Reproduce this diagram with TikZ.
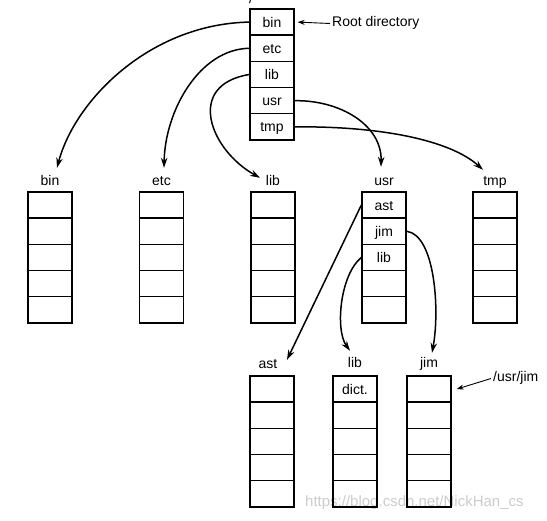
\documentclass[tikz,border=0pt]{standalone}
\usepackage{fontspec}
\setmainfont{Liberation Sans}
\usetikzlibrary{arrows.meta}
\begin{document}
\begin{tikzpicture}[x=1pt,y=-1pt,
  txt/.style={font=\fontsize{14}{16}\selectfont},
  cell/.style={txt, draw, line width=1.4pt, minimum width=44pt, minimum height=26.2pt, inner sep=0pt, text height=10pt, text depth=0pt},
  lbl/.style={txt, anchor=base, inner sep=2pt, text height=10pt, text depth=3pt},
  link/.style={line width=1.5pt, -{Stealth[length=10pt,width=6.5pt]}},
  pointer/.style={line width=0.9pt, -{Stealth[length=7pt,width=5pt]}}]
\useasboundingbox (0,0) rectangle (547,521);
% watermark
\node[anchor=base west, inner sep=0pt, text=black!20, font=\fontsize{15}{18}\selectfont] (wm) at (305,507) {https://blog.csdn.net/NickHan\_cs};
% root
\node[txt, anchor=base, inner sep=0pt] (slash) at (251,4) {/};
\foreach \t [count=\i] in {bin,etc,lib,usr,tmp}
  \node[cell] (r\i) at (272,{9+26.2*(\i-0.5)}) {\t};
\node[lbl, anchor=base west] (rootL) at (330,27) {Root directory};
\draw[pointer] (rootL.west) -- ([xshift=3pt]r1.east);
% middle row
\foreach \n/\x in {bin/50,etc/161.5,lib/273,tmp/495}
  \foreach \i in {1,...,5}
    \node[cell] (\n\i) at (\x,{192+26.2*(\i-0.5)}) {};
\foreach \t [count=\i] in {ast,jim,lib,{},{}}
  \node[cell] (u\i) at (384,{192+26.2*(\i-0.5)}) {\t};
\node[lbl] (binL) at (50,186) {bin};
\node[lbl] (etcL) at (161.5,186) {etc};
\node[lbl] (libL) at (273,186) {lib};
\node[lbl] (usrL) at (384,186) {usr};
\node[lbl] (tmpL) at (495,186) {tmp};
% bottom row
\foreach \t [count=\i] in {{},{},{},{},{}}
  \node[cell] (a\i) at (272,{376+26.2*(\i-0.5)}) {\t};
\foreach \t [count=\i] in {dict.,{},{},{},{}}
  \node[cell] (l\i) at (355,{376+26.2*(\i-0.5)}) {\t};
\foreach \t [count=\i] in {{},{},{},{},{}}
  \node[cell] (j\i) at (429,{376+26.2*(\i-0.5)}) {\t};
\node[lbl] (astL) at (268,369) {ast};
\node[lbl] (lib2L) at (355,368) {lib};
\node[lbl] (jimL) at (429,368) {jim};
\node[lbl, anchor=base west] (pathL) at (491,382) {/usr/jim};
\draw[pointer] (pathL.west) -- ([xshift=5pt]j1.east);
% links from root
\draw[link] (r1.west) .. controls (150,24) and (75,100) .. ([shift={(7,-6)}]binL.north);
\draw[link] (r2.west) .. controls (200,49) and (165,110) .. ([shift={(2.5,-6)}]etcL.north);
\draw[link] (r3.west) .. controls (185,85) and (210,150) .. ([shift={(-13,4)}]libL.north);
\draw[link] (r4.east) .. controls (340,100) and (382,125) .. ([shift={(-3,-7)}]usrL.north);
\draw[link] (r5.east) .. controls (380,126) and (450,140) .. ([shift={(-12,-4)}]tmpL.north);
% links from usr
\draw[link] (u1.west) -- ([shift={(19,3)}]astL.north);
\draw[link] (u3.west) .. controls (340,275) and (335,330) .. ([shift={(-5,-5)}]lib2L.north);
\draw[link] (u2.east) .. controls (435,235) and (440,310) .. ([shift={(3,-3)}]jimL.north);
\end{tikzpicture}
\end{document}
